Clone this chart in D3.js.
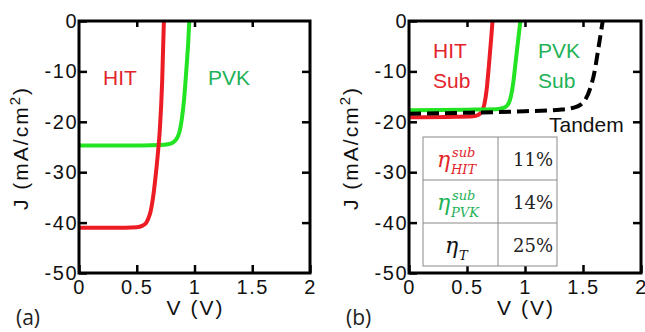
<!DOCTYPE html>
<html>
<head>
<meta charset="utf-8">
<script src="https://cdn.jsdelivr.net/npm/d3@7"></script>
<style>
  body { margin: 0; background: #fff; }
  svg { display: block; font-family: "Liberation Sans", Arial, sans-serif; }
  .tick text { font-size: 20px; letter-spacing: 1.5px; fill: #111; }
  .tick line { stroke: #000; stroke-width: 2.5; }
</style>
</head>
<body>
<svg id="chart" width="645" height="332"></svg>
<script>
// (a) single junction cells
const A_HIT_V = [0, 0.3, 0.5, 0.55, 0.58, 0.6, 0.62, 0.64, 0.66, 0.68, 0.70, 0.72, 0.735];
const A_HIT_J = [-41, -41, -40.9, -40.6, -40.1, -39.2, -37.8, -35.2, -31.5, -27, -21.5, -12, 0];
const A_PVK_V = [0, 0.4, 0.7, 0.78, 0.82, 0.85, 0.87, 0.89, 0.91, 0.93, 0.945, 0.955];
const A_PVK_J = [-24.7, -24.7, -24.6, -24.4, -24.0, -23.2, -22.0, -19.5, -15.5, -9.5, -4.5, 0];

// (b) sub cells inside the tandem
const B_HIT_V = [0, 0.4, 0.55, 0.6, 0.63, 0.65, 0.67, 0.69, 0.71, 0.72];
const B_HIT_J = [-19.1, -19.0, -18.9, -18.6, -17.8, -16.5, -13.5, -8.5, -3, 0];
const B_PVK_V = [0, 0.5, 0.75, 0.82, 0.86, 0.88, 0.9, 0.92, 0.94, 0.96];
const B_PVK_J = [-17.7, -17.6, -17.5, -17.2, -16.3, -14.8, -12, -8, -4, 0];
const TANDEM_V = [0, 0.5, 1.0, 1.3, 1.42, 1.48, 1.52, 1.56, 1.6, 1.63, 1.67];
const TANDEM_J = [-18.4, -18.2, -17.9, -17.6, -17.2, -16.6, -15.6, -13.5, -10, -5.8, 0];

const X_TICKS = [0, 0.5, 1, 1.5, 2];
const Y_TICKS = [0, -10, -20, -30, -40, -50];

// efficiency table of panel (b)
const ETA_SUP = ['sub', 'sub', ''];
const ETA_SUB = ['HIT', 'PVK', 'T'];
const ETA_VALUES = ['11%', '14%', '25%'];

const RED = '#ec1c24';
const GREEN_LINE = '#22e422';
const RED_TEXT = '#e3242b';
const GREEN_TEXT = '#1fb257';
const ETA_COLORS = [RED_TEXT, GREEN_TEXT, '#111'];

const svg = d3.select('#chart');
const yTop = 21, yBottom = 273;

function zip(vs, js) { return vs.map((v, i) => [v, js[i]]); }

function drawPanel(left, right, label) {
  let x = d3.scaleLinear().domain([0, 2]).range([left, right]);
  let y = d3.scaleLinear().domain([-50, 0]).range([yBottom, yTop]);
  let g = svg.append('g');

  g.append('g').attr('transform', `translate(0,${yBottom})`)
    .call(d3.axisBottom(x).tickValues(X_TICKS).tickSize(-8).tickPadding(7).tickFormat(d3.format('~g')));
  g.append('g').attr('transform', `translate(0,${yTop})`)
    .call(d3.axisTop(x).tickValues([0.5, 1, 1.5]).tickSize(-6).tickFormat(''));
  g.append('g').attr('transform', `translate(${left},0)`)
    .call(d3.axisLeft(y).tickValues(Y_TICKS).tickSize(-8).tickPadding(1).tickFormat(d => String(d)));
  g.append('g').attr('transform', `translate(${right},0)`)
    .call(d3.axisRight(y).tickValues(Y_TICKS.slice(1, -1)).tickSize(-8).tickFormat(''));
  g.selectAll('.domain').remove();

  // axis titles
  g.append('text')
    .attr('transform', `translate(${left - 51},${(yTop + yBottom) / 2 + 1})rotate(-90)`)
    .attr('text-anchor', 'middle')
    .style('font-size', '21px').style('letter-spacing', '2px').attr('fill', '#111')
    .call(t => {
      t.append('tspan').text('J (mA/cm');
      t.append('tspan').text('2').attr('dy', -8).style('font-size', '15px');
      t.append('tspan').text(')').attr('dy', 8);
    });
  g.append('text')
    .attr('x', (left + right) / 2 + 1).attr('y', 315)
    .attr('text-anchor', 'middle')
    .style('font-size', '21px').style('letter-spacing', '2px').attr('fill', '#111')
    .text('V (V)');
  g.append('text')
    .attr('x', left - 63).attr('y', 325)
    .style('font-family', '"Open Sans", sans-serif').style('font-size', '21px').attr('fill', '#222')
    .text(label);

  return { g, x, y };
}

function drawCurve(p, vs, js, color, dash) {
  let line = d3.line().x(d => p.x(d[0])).y(d => p.y(d[1])).curve(d3.curveMonotoneX);
  p.g.append('path')
    .datum(zip(vs, js))
    .attr('d', line)
    .attr('fill', 'none')
    .attr('stroke', color)
    .attr('stroke-width', 4)
    .attr('stroke-linejoin', 'round')
    .attr('stroke-dasharray', dash || null);
}

function frame(p) {
  let [x0, x1] = p.x.range();
  p.g.append('rect')
    .attr('x', x0).attr('y', yTop)
    .attr('width', x1 - x0).attr('height', yBottom - yTop)
    .attr('fill', 'none').attr('stroke', '#000').attr('stroke-width', 3);
}

function label(p, txt, x, y, color, size) {
  p.g.append('text').attr('x', x).attr('y', y)
    .style('font-size', (size || 21) + 'px').attr('fill', color).text(txt);
}

// panel (a)
let pa = drawPanel(79, 310, '(a)');
drawCurve(pa, A_PVK_V, A_PVK_J, GREEN_LINE);
drawCurve(pa, A_HIT_V, A_HIT_J, RED);
frame(pa);
label(pa, 'HIT', 103, 85, RED_TEXT);
label(pa, 'PVK', 208, 85, GREEN_TEXT);

// panel (b)
let pb = drawPanel(409, 641, '(b)');
drawCurve(pb, B_HIT_V, B_HIT_J, RED);
drawCurve(pb, B_PVK_V, B_PVK_J, GREEN_LINE);
drawCurve(pb, TANDEM_V, TANDEM_J, '#000', '12,6');
frame(pb);
label(pb, 'HIT', 433, 58, RED_TEXT);
label(pb, 'Sub', 433, 88, RED_TEXT);
label(pb, 'PVK', 538, 58, GREEN_TEXT);
label(pb, 'Sub', 538, 88, GREEN_TEXT);
label(pb, 'Tandem', 549, 132, '#111', 21);

// table
let rows = d3.scaleBand().domain(d3.range(ETA_VALUES.length)).range([137, 266]);
let cols = [423, 498, 557];
let tg = pb.g.append('g');
tg.append('rect')
  .attr('x', cols[0]).attr('y', rows.range()[0])
  .attr('width', cols[2] - cols[0]).attr('height', rows.range()[1] - rows.range()[0])
  .attr('fill', '#fff').attr('stroke', '#8a8a8a').attr('stroke-width', 1);
tg.append('line').attr('x1', cols[1]).attr('x2', cols[1])
  .attr('y1', rows.range()[0]).attr('y2', rows.range()[1])
  .attr('stroke', '#8a8a8a');
tg.selectAll('line.row').data(d3.range(1, ETA_VALUES.length)).enter()
  .append('line').attr('class', 'row')
  .attr('x1', cols[0]).attr('x2', cols[2])
  .attr('y1', d => rows(d)).attr('y2', d => rows(d))
  .attr('stroke', '#8a8a8a');

let serif = '"DejaVu Serif", serif';
ETA_VALUES.forEach((val, i) => {
  let cy = rows(i) + rows.bandwidth() / 2;
  let hasSup = ETA_SUP[i] !== '';
  let ex = hasSup ? 437 : 445;
  tg.append('text').attr('x', ex).attr('y', cy + 8)
    .style('font-family', serif).style('font-style', 'italic').style('font-size', '22px')
    .attr('fill', ETA_COLORS[i]).text('η');
  if (hasSup) {
    tg.append('text').attr('x', ex + 15).attr('y', cy - 1.5)
      .style('font-family', serif).style('font-style', 'italic').style('font-size', '13px')
      .attr('fill', ETA_COLORS[i]).text(ETA_SUP[i]);
  }
  tg.append('text').attr('x', ex + 14).attr('y', cy + 15)
    .style('font-family', serif).style('font-style', 'italic').style('font-size', '13px')
    .attr('fill', ETA_COLORS[i]).text(ETA_SUB[i]);
  tg.append('text').attr('x', 553).attr('y', cy + 7).attr('text-anchor', 'end')
    .style('font-family', serif).style('font-size', '18px')
    .attr('fill', '#222').text(val);
});
</script>
</body>
</html>
